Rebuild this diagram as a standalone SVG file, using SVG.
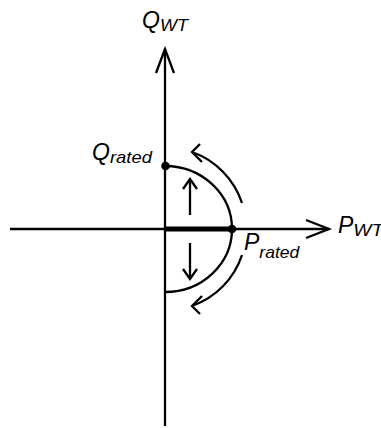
<svg xmlns="http://www.w3.org/2000/svg" width="381" height="428" viewBox="0 0 381 428">
<style>
.ln{fill:none;stroke:#000;stroke-width:2.3}
.t{font-family:"Liberation Sans",Arial,sans-serif;font-size:23px;font-style:italic;fill:#000}
.s{font-size:17px}
</style>
<rect width="381" height="428" fill="#fff"/>
<g id="axes">
<line class="ln" x1="165" y1="49" x2="165" y2="426"/>
<polyline class="ln" points="156,73 165,49 174,73"/>
<line class="ln" x1="10" y1="229" x2="329" y2="229"/>
<polyline class="ln" points="306,220 329,229 306,238"/>
</g>
<g id="capability">
<path class="ln" d="M165,166 A67,63 0 0 1 232,229 A67,63 0 0 1 165,292"/>
<line x1="165" y1="229" x2="232" y2="229" stroke="#000" stroke-width="5"/>
<circle cx="165.5" cy="166" r="4.3"/>
<circle cx="232" cy="229" r="4.3"/>
</g>
<g id="arrows">
<line class="ln" x1="190" y1="215" x2="190" y2="179"/>
<polyline class="ln" points="183,189 190,179 197,189"/>
<line class="ln" x1="190" y1="243" x2="190" y2="279"/>
<polyline class="ln" points="183,269 190,279 197,269"/>
<path class="ln" d="M242,203 A81,81 0 0 0 192,152"/>
<polyline class="ln" points="200,144 192,152 202,162"/>
<path class="ln" d="M242,255 A81,81 0 0 1 192,306"/>
<polyline class="ln" points="202,296 192,306 200,314"/>
</g>
<g id="labels">
<text class="t" x="142" y="28">Q<tspan class="s" dy="3" textLength="28" lengthAdjust="spacingAndGlyphs">WT</tspan></text>
<text class="t" x="92" y="160">Q<tspan class="s" dy="3" textLength="42" lengthAdjust="spacingAndGlyphs">rated</tspan></text>
<text class="t" x="338" y="233">P<tspan class="s" dy="3" textLength="30" lengthAdjust="spacingAndGlyphs">WT</tspan></text>
<text class="t" x="244" y="250">P<tspan class="s" dy="8" textLength="40" lengthAdjust="spacingAndGlyphs">rated</tspan></text>
</g>
</svg>
